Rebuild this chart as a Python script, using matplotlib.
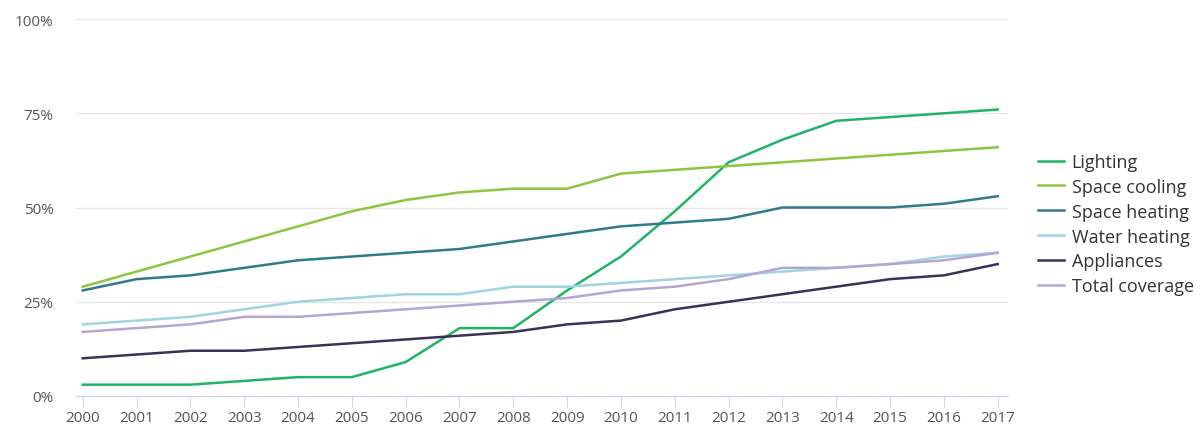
import matplotlib.pyplot as plt
import numpy as np

years = list(range(2000, 2018))

lighting = [3, 3, 3, 4, 5, 5, 9, 18, 18, 28, 37, 49, 62, 68, 73, 74, 75, 76]
space_cooling = [29, 33, 37, 41, 45, 49, 52, 54, 55, 55, 59, 60, 61, 62, 63, 64, 65, 66]
space_heating = [28, 31, 32, 34, 36, 37, 38, 39, 41, 43, 45, 46, 47, 50, 50, 50, 51, 53]
water_heating = [19, 20, 21, 23, 25, 26, 27, 27, 29, 29, 30, 31, 32, 33, 34, 35, 37, 38]
appliances = [10, 11, 12, 12, 13, 14, 15, 16, 17, 19, 20, 23, 25, 27, 29, 31, 32, 35]
total_coverage = [17, 18, 19, 21, 21, 22, 23, 24, 25, 26, 28, 29, 31, 34, 34, 35, 36, 38]

series_names = ["Lighting", "Space cooling", "Space heating", "Water heating",
                "Appliances", "Total coverage"]
series_values = [lighting, space_cooling, space_heating, water_heating,
                 appliances, total_coverage]
colors = ["#1fb466", "#8cc63e", "#2f7b8a", "#9fd5e0", "#3d2f55", "#b3a6d4"]

y_ticks = [0, 25, 50, 75, 100]
y_tick_labels = ["0%", "25%", "50%", "75%", "100%"]

plt.rcParams['font.family'] = ['Open Sans', 'DejaVu Sans']

fig = plt.figure(figsize=(12.02, 4.27), dpi=100)
ax = fig.add_axes([0.063, 0.0703, 0.776, 0.8827])

for name, vals, c in zip(series_names, series_values, colors):
    ax.plot(years, vals, color=c, linewidth=1.8, label=name)

ax.set_xlim(1999.87, 2017.2)
ax.set_ylim(0, 100)
ax.set_xticks(years)
ax.set_xticklabels([str(y) for y in years], fontsize=11, color="#555555")
ax.set_yticks(y_ticks)
ax.set_yticklabels(y_tick_labels, fontsize=11, color="#555555")

ax.grid(axis='y', color="#e6e6e6", linewidth=1)
ax.set_axisbelow(True)
for side in ['top', 'right', 'left']:
    ax.spines[side].set_visible(False)
ax.spines['bottom'].set_color("#ccd6eb")
ax.tick_params(axis='x', direction='out', length=8, color="#ccd6eb", pad=2)
ax.tick_params(axis='y', length=0, pad=16)

ax.legend(loc='center left', bbox_to_anchor=(1.032, 0.456), frameon=False,
          fontsize=13, handlelength=1.4, handletextpad=0.45, borderpad=0,
          borderaxespad=0, labelspacing=0.38, labelcolor="#333333")

fig.savefig("out.png", dpi=100)
